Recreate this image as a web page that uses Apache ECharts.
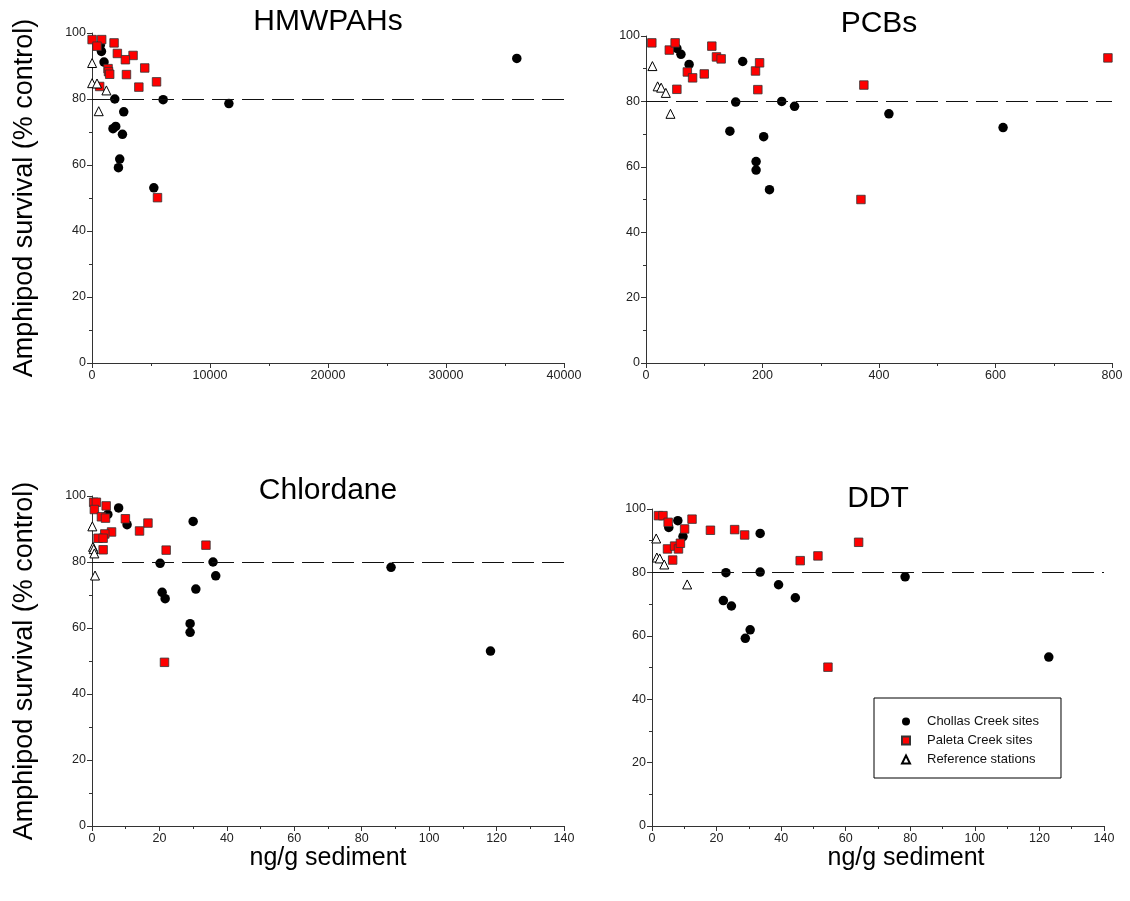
<!DOCTYPE html>
<html><head><meta charset="utf-8">
<script src="https://cdn.jsdelivr.net/npm/echarts/dist/echarts.min.js"></script>
<style>html,body{margin:0;padding:0;background:#fff}#c{width:1130px;height:901px}</style>
</head><body><div id="c"></div>
<script>
// ---- data: [concentration (ng/g sediment), amphipod survival (% control)] ----
const seriesNames = ['Chollas Creek sites', 'Paleta Creek sites', 'Reference stations'];
const panelTitles = ['HMWPAHs', 'PCBs', 'Chlordane', 'DDT'];
const xMax = [40000, 800, 140, 140];
const xInterval = [10000, 200, 20, 20];
const yTicks = [0, 20, 40, 60, 80, 100];
const threshold = 80;

const hmwChollas = [[700,96.3],[800,94.4],[1020,91.2],[36000,92.3],[1930,80.0],[6030,79.8],[11600,78.6],[2690,76.1],[1780,71.0],[2010,71.7],[2580,69.3],[2350,61.8],[2240,59.2],[5240,53.1]];
const hmwPaleta = [[10,98],[820,98],[425,96],[1870,97],[2150,93.8],[3480,93.2],[2830,91.9],[1360,89.2],[1400,88.3],[1500,87.5],[4470,89.4],[2920,87.4],[5470,85.2],[3970,83.6],[650,83.8],[5550,50.1]];
const hmwRef = [[10,90.9],[10,84.8],[425,84.7],[1220,82.6],[570,76.3]];

const pcbChollas = [[53,96.2],[60,94.4],[74,91.3],[166,92.2],[154,79.8],[233,80.0],[255,78.5],[144,70.9],[202,69.2],[189,61.6],[189,59.0],[212,53.0],[417,76.2],[613,72.0]];
const pcbPaleta = [[10,97.9],[40,95.7],[50,97.9],[53,83.7],[71,89.0],[80,87.2],[100,88.4],[113,96.9],[121,93.6],[129,93.0],[188,89.3],[195,91.8],[192,83.6],[369,50.0],[374,85.0],[793,93.3]];
const pcbRef = [[11,90.8],[20,84.6],[26,84.2],[34,82.6],[42,76.2]];

const chlChollas = [[4.7,94.4],[7.9,96.4],[10.4,91.3],[30.0,92.3],[20.2,79.6],[35.9,80.0],[36.7,75.8],[30.8,71.8],[20.8,70.8],[21.7,68.9],[29.1,61.3],[29.1,58.7],[88.7,78.4],[118.2,53.0]];
const chlPaleta = [[0.5,98.1],[1.3,98.1],[0.7,95.9],[4.2,97.0],[2.8,93.7],[4.0,93.3],[9.9,93.1],[16.6,91.8],[14.1,89.4],[5.8,89.1],[3.8,88.5],[1.8,87.2],[3.3,87.2],[3.3,83.7],[22.0,83.6],[33.8,85.1],[21.5,49.6]];
const chlRef = [[0.1,90.8],[0.3,84.6],[0.5,83.9],[0.7,82.6],[0.9,75.9]];

const ddtChollas = [[5.2,94.2],[8.0,96.3],[9.6,91.3],[33.5,92.3],[22.9,79.9],[33.5,80.1],[39.2,76.1],[78.4,78.6],[44.4,72.0],[22.1,71.1],[24.6,69.4],[30.4,61.9],[28.9,59.2],[122.9,53.3]];
const ddtPaleta = [[2.0,97.9],[3.4,97.9],[5.0,95.8],[12.4,96.8],[10.1,93.7],[18.1,93.3],[25.6,93.5],[28.7,91.8],[64.0,89.5],[4.8,87.4],[7.0,88.3],[8.2,87.4],[8.8,89.2],[6.4,83.9],[45.9,83.7],[51.4,85.2],[54.5,50.1]];
const ddtRef = [[1.3,90.7],[1.5,84.7],[2.4,84.4],[3.8,82.5],[10.9,76.2]];

const panelData = [
  [hmwChollas, hmwPaleta, hmwRef],
  [pcbChollas, pcbPaleta, pcbRef],
  [chlChollas, chlPaleta, chlRef],
  [ddtChollas, ddtPaleta, ddtRef]
];

// ---- layout ----
const grids = [
  {left: 92,  top: 33,  width: 472, height: 330},
  {left: 646, top: 36,  width: 466, height: 327},
  {left: 92,  top: 496, width: 472, height: 330},
  {left: 652, top: 509, width: 452, height: 317}
];
const FONT = 'Liberation Sans, Arial, Helvetica, sans-serif';
const axisColor = '#333';

function axisCommon() {
  return {
    type: 'value', min: 0,
    axisLine: {show: true, onZero: false, lineStyle: {color: axisColor, width: 1}},
    axisTick: {show: true, inside: false, length: 5, lineStyle: {color: axisColor, width: 1}},
    minorTick: {show: true, splitNumber: 2, length: 3, lineStyle: {color: axisColor, width: 1}},
    splitLine: {show: false}, minorSplitLine: {show: false},
    axisLabel: {fontSize: 12.5, color: '#222', fontFamily: FONT, margin: 6, formatter: v => String(v)}
  };
}

const symStyles = [
  {symbol: 'circle', symbolSize: 9.5, itemStyle: {color: '#000', opacity: 1}},
  {symbol: 'rect', symbolSize: 8.5, itemStyle: {color: '#ff0000', borderColor: '#333', borderWidth: 0.8, opacity: 1}},
  {symbol: 'triangle', symbolSize: 9, itemStyle: {color: '#fff', borderColor: '#000', borderWidth: 1, opacity: 1}}
];

const xAxes = [], yAxes = [], series = [];
for (let i = 0; i < 4; i++) {
  xAxes.push(Object.assign(axisCommon(), {gridIndex: i, max: xMax[i], interval: xInterval[i]}));
  yAxes.push(Object.assign(axisCommon(), {gridIndex: i, max: yTicks[yTicks.length-1], interval: yTicks[1]-yTicks[0]}));
  for (let s = 0; s < 3; s++) {
    const ser = Object.assign({
      type: 'scatter', name: seriesNames[s], xAxisIndex: i, yAxisIndex: i,
      data: panelData[i][s], emphasis: {disabled: true}
    }, symStyles[s]);
    if (s === 0) {
      ser.markLine = {silent: true, symbol: 'none', label: {show: false}, animation: false,
        lineStyle: {type: [22, 8], color: '#111', width: 1}, data: [{yAxis: threshold}]};
    }
    series.push(ser);
  }
}

function txt(text, x, y, size, rot) {
  return {type: 'text', x: x, y: y, rotation: rot || 0, silent: true,
    style: {text: text, fontSize: size, fontFamily: FONT, fill: '#000', align: 'center', verticalAlign: 'middle'}};
}

const option = {
  animation: false,
  backgroundColor: '#fff',
  grid: grids,
  xAxis: xAxes,
  yAxis: yAxes,
  series: series,
  legend: {
    data: [
      {name: seriesNames[0], icon: 'circle'},
      {name: seriesNames[1], icon: 'rect'},
      {name: seriesNames[2], icon: 'triangle'}
    ],
    orient: 'vertical', left: 874, top: 698,
    itemWidth: 8, itemHeight: 8, itemGap: 6,
    padding: [17, 22, 12, 27],
    borderColor: '#000', borderWidth: 1, selectedMode: false,
    textStyle: {fontSize: 13, color: '#111', fontFamily: FONT, padding: [0, 0, 0, 12]}
  },
  graphic: [
    txt(panelTitles[0], 328, 22, 30),
    txt(panelTitles[1], 879, 24, 30),
    txt(panelTitles[2], 328, 491, 30),
    txt(panelTitles[3], 878, 499, 30),
    txt('Amphipod survival (% control)', 25, 198, 27, Math.PI/2),
    txt('Amphipod survival (% control)', 25, 661, 27, Math.PI/2),
    txt('ng/g sediment', 328, 858, 25),
    txt('ng/g sediment', 906, 858, 25)
  ]
};

const chart = echarts.init(document.getElementById('c'), null, {renderer: 'canvas'});
chart.setOption(option);
</script></body></html>
